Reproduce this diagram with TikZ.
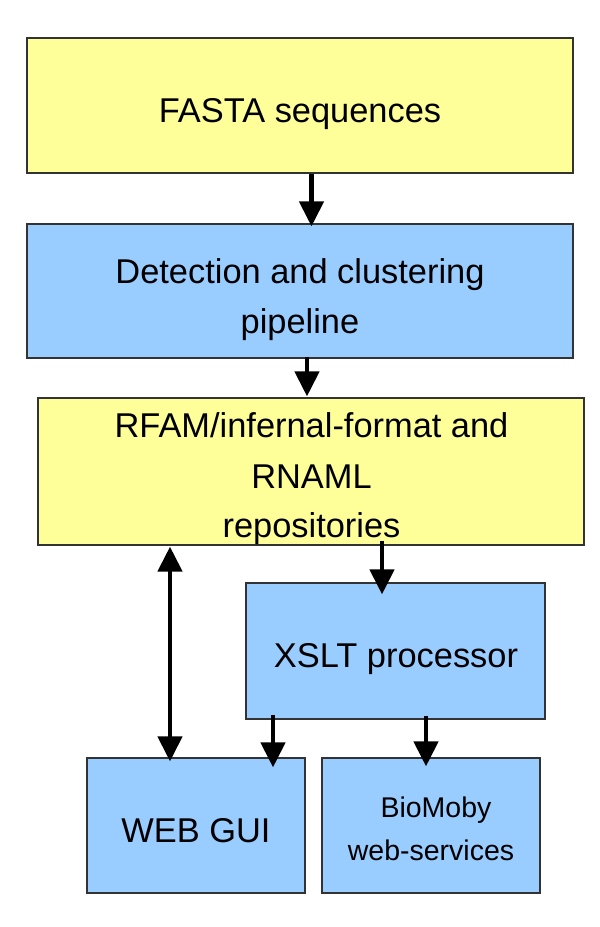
\documentclass[tikz,border=0pt]{standalone}
\usepackage{fontspec}
\setmainfont{Liberation Sans}
\usetikzlibrary{arrows.meta,calc}
\definecolor{yfill}{HTML}{FFFF99}
\definecolor{bfill}{HTML}{99CCFF}
\begin{document}
\begin{tikzpicture}[x=1pt,y=-1pt,
  box/.style={draw=black!80, line width=1.2pt, inner sep=0pt},
  ybox/.style={box, fill=yfill},
  bbox/.style={box, fill=bfill},
  txt/.style={anchor=base, inner sep=0pt, font=\fontsize{34.4}{40}\selectfont},
  stxt/.style={anchor=base, inner sep=0pt, font=\fontsize{28.5}{34}\selectfont},
  tipshape/.style={},
  arr/.style={line width=4.5pt, -{Triangle[width=24pt,length=25pt]}},
  darr/.style={line width=4.5pt, {Triangle[width=24pt,length=25pt]}-{Triangle[width=24pt,length=25pt]}}]
\useasboundingbox (0,0) rectangle (600,927);
\fill[white] (0,0) rectangle (600,927);

% boxes
\node[ybox, minimum width=546pt, minimum height=135pt] (fasta) at (300,105.5) {};
\node[bbox, minimum width=546pt, minimum height=134pt] (detect) at (300,291) {};
\node[ybox, minimum width=546pt, minimum height=147pt] (rfam) at (311,471.5) {};
\node[bbox, minimum width=299pt, minimum height=136pt] (xslt) at (395.5,651) {};
\node[bbox, minimum width=218pt, minimum height=135pt] (web) at (196,825.5) {};
\node[bbox, minimum width=218pt, minimum height=135pt] (bio) at (431,825.5) {};

% texts
\node[txt] (fastat) at (300,122) {FASTA sequences};
\node[txt] (detectt1) at (300,283) {Detection and clustering};
\node[txt] (detectt2) at (300,333) {pipeline};
\node[txt] (rfamt1) at (311.5,437) {RFAM/infernal-format and};
\node[txt] (rfamt2) at (311.5,488) {RNAML};
\node[txt] (rfamt3) at (311.5,537) {repositories};
\node[txt] (xsltt) at (396,667) {XSLT processor};
\node[txt] (webt) at (196,842) {WEB GUI};
\node[stxt] (biot1) at (436,817) {BioMoby};
\node[stxt] (biot2) at (431,860) {web-services};

% arrow columns
\coordinate (c1) at (311.5,0);
\coordinate (c2) at (307,0);
\coordinate (c3) at (382,0);
\coordinate (c4) at (170,0);
\coordinate (c5) at (273,0);
\coordinate (c6) at (426,0);

\draw[arr] (fasta.south -| c1) -- ($(detect.north -| c1)+(0,3)$);
\draw[arr] ($(detect.south -| c2)+(0,-2)$) -- ($(rfam.north -| c2)+(0,-1)$);
\draw[arr] ($(rfam.south -| c3)+(0,-5)$) -- ($(xslt.north -| c3)+(0,12)$);
\draw[darr] ($(rfam.south -| c4)+(0,1)$) -- ($(web.north -| c4)+(0,4)$);
\draw[arr] ($(xslt.south -| c5)+(0,-5)$) -- ($(web.north -| c5)+(0,10)$);
\draw[arr] ($(xslt.south -| c6)+(0,-4)$) -- ($(bio.north -| c6)+(0,9)$);
\end{tikzpicture}
\end{document}
